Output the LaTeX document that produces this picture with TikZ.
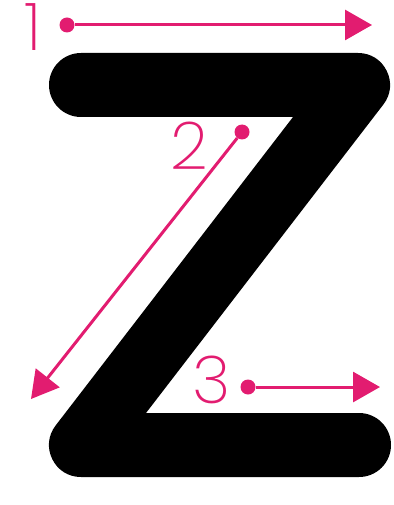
\documentclass[tikz,border=0pt]{standalone}
\usepackage{fontspec}
\newfontfamily\numfont{Poppins ExtraLight}
\usetikzlibrary{arrows.meta}
\definecolor{zpink}{RGB}{226,28,112}

\begin{document}
\begin{tikzpicture}[x=1pt, y=-1pt,
    dot/.style={circle, fill=zpink, inner sep=0pt, minimum size=15pt},
    num/.style={text=zpink, font=\numfont\fontsize{66}{66}\selectfont, inner sep=0pt},
    stroke/.style={draw=zpink, line width=3pt, -{Triangle[length=27pt, width=30pt]}}]
    \useasboundingbox (0,0) rectangle (393,505);

    % Lettre Z
    \draw[line width=64pt, line cap=round, line join=round] (81,85) -- (358,85) -- (81,445) -- (359,445);

    % Trait 1
    \node[num] (n1) at (33,27) {1};
    \node[dot] (d1) at (67,25) {};
    \coordinate (e1) at (372,25);
    \draw[stroke] (d1) -- (e1);

    % Trait 2
    \node[num] (n2) at (189,146) {2};
    \node[dot] (d2) at (242,132) {};
    \coordinate (e2) at (31,399);
    \draw[stroke] (d2) -- (e2);

    % Trait 3
    \node[num] (n3) at (212,380) {3};
    \node[dot] (d3) at (248,387) {};
    \coordinate (e3) at (380,387);
    \draw[stroke] (d3) -- (e3);
\end{tikzpicture}
\end{document}
